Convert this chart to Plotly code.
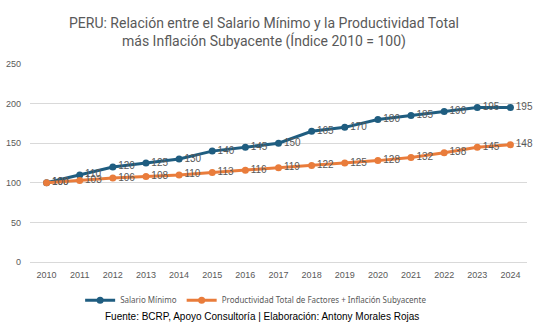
import plotly.graph_objects as go

years = list(range(2010, 2025))
salario = [100, 110, 120, 125, 130, 140, 145, 150, 165, 170, 180, 185, 190, 195, 195]
productividad = [100, 103, 106, 108, 110, 113, 116, 119, 122, 125, 128, 132, 138, 145, 148]

blue = "#1f5d80"
orange = "#e97c3b"
gray = "#595959"

fig = go.Figure()
fig.add_trace(go.Scatter(
    x=years, y=salario, name="Salario Mínimo", mode="lines+markers+text",
    line=dict(color=blue, width=3), marker=dict(color=blue, size=7),
    text=[str(v) for v in salario], textposition="middle right",
    textfont=dict(color=gray, size=10, family="Liberation Sans"),
    cliponaxis=False,
))
fig.add_trace(go.Scatter(
    x=years, y=productividad, name="Productividad Total de Factores + Inflación Subyacente",
    mode="lines+markers+text",
    line=dict(color=orange, width=3), marker=dict(color=orange, size=7),
    text=[str(v) for v in productividad], textposition="middle right",
    textfont=dict(color=gray, size=10, family="Liberation Sans"),
    cliponaxis=False,
))

fig.update_layout(
    width=546, height=330,
    margin=dict(l=30, r=19, t=64, b=68, autoexpand=False),
    paper_bgcolor="white", plot_bgcolor="white",
    showlegend=True,
    legend=dict(
        orientation="h", x=0.455, xanchor="center", y=-0.12, yanchor="top",
        font=dict(family="Noto Sans", size=8, color=gray),
        itemwidth=30, tracegroupgap=0,
    ),
    xaxis=dict(
        range=[2009.5, 2024.5], tickmode="array", tickvals=years,
        ticktext=[str(y) for y in years], showgrid=False, zeroline=False,
        tickfont=dict(family="Liberation Sans", size=9, color=gray),
        showline=False, ticks="", ticklabelstandoff=6, automargin=False,
    ),
    yaxis=dict(
        range=[0, 250], tickvals=[0, 50, 100, 150, 200, 250],
        showgrid=True, gridcolor="#d9d9d9", gridwidth=1, zeroline=True,
        zerolinecolor="#d9d9d9", zerolinewidth=1,
        tickfont=dict(family="Liberation Sans", size=9, color=gray),
        ticks="", ticklabelstandoff=8, automargin=False,
    ),
    annotations=[
        dict(
            text="PERU: Relación entre el Salario Mínimo y la Productividad Total<br>más Inflación Subyacente (Índice 2010 = 100)",
            xref="paper", yref="paper", x=0.471, xanchor="center",
            y=1.0 + 12 / 198, yanchor="bottom", showarrow=False,
            font=dict(family="Roboto", size=14, color=gray), align="center",
        ),
        dict(
            text="Fuente: BCRP, Apoyo Consultoría | Elaboración: Antony Morales Rojas",
            xref="paper", yref="paper", x=0.467, xanchor="center",
            y=-0.235, yanchor="top", showarrow=False,
            font=dict(family="Liberation Sans", size=10, color="black"),
        ),
    ],
)

fig.write_html("out.html")
